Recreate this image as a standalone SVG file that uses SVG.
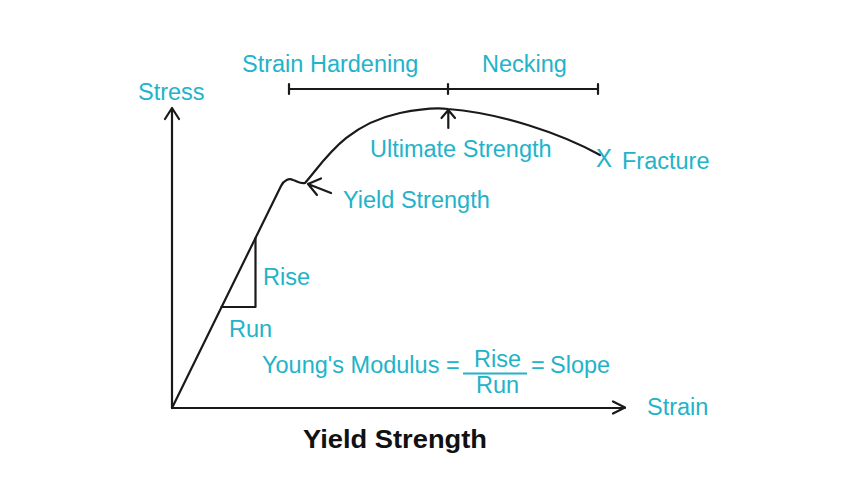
<svg xmlns="http://www.w3.org/2000/svg" width="850" height="478" viewBox="0 0 850 478">
<style>
.t{font-family:"Liberation Sans",Arial,sans-serif;font-size:23.5px;fill:#22b3c9}
.ln{fill:none;stroke:#1a1a1a;stroke-width:2.2;stroke-linecap:round;stroke-linejoin:round}
.b{font-family:"Liberation Sans",Arial,sans-serif;font-size:26px;font-weight:bold;fill:#111}
</style>
<rect width="850" height="478" fill="#fff"/>
<g id="axes">
<path class="ln" d="M172 408 V108 M165 119 L172 108 L179 119"/>
<path class="ln" d="M172 408 H625 M613 401.5 L625 407.5 L613 413.5"/>
<text class="t" x="138" y="100">Stress</text>
<text class="t" x="647" y="415">Strain</text>
</g>
<g id="curve">
<path class="ln" d="M172 408 L281 186 C284 180 289 178 293 180 C297 181 300 184 305 183 C325 160 345 125 400 113 C425 108 440 108 448 109 C500 113 560 133 600 155"/>
</g>
<g id="slope-triangle">
<path class="ln" d="M255.5 238 V307 H221.5"/>
<text class="t" x="263" y="285">Rise</text>
<text class="t" x="229" y="337">Run</text>
</g>
<g id="regions">
<path class="ln" d="M289 89 H598 M289 84 V94 M448 84 V94 M598 84 V94"/>
<text class="t" x="242" y="72">Strain Hardening</text>
<text class="t" x="482" y="72">Necking</text>
</g>
<g id="connectors">
<path class="ln" d="M308 184 L331 193 M321 178.5 L308 184 L317 195"/>
<path class="ln" d="M448.3 110 V128 M441.5 118 L448.3 110 L455 118"/>
</g>
<g id="yield">
<text class="t" x="343" y="208">Yield Strength</text>
</g>
<g id="ultimate">
<text class="t" x="370" y="157">Ultimate Strength</text>
</g>
<g id="fracture">
<text class="t" x="596" y="166.5" style="font-size:26px" textLength="16" lengthAdjust="spacingAndGlyphs">X</text>
<text class="t" x="622" y="169">Fracture</text>
</g>
<g id="formula">
<text class="t" x="262" y="373">Young's Modulus =</text>
<text class="t" x="474" y="367">Rise</text>
<path d="M463 373.5 H527" stroke="#22b3c9" stroke-width="1.8"/>
<text class="t" x="476" y="393">Run</text>
<text class="t" x="531" y="373">=</text>
<text class="t" x="550" y="373">Slope</text>
</g>
<g id="title">
<text class="b" x="303" y="448" textLength="184" lengthAdjust="spacingAndGlyphs">Yield Strength</text>
</g>
</svg>
